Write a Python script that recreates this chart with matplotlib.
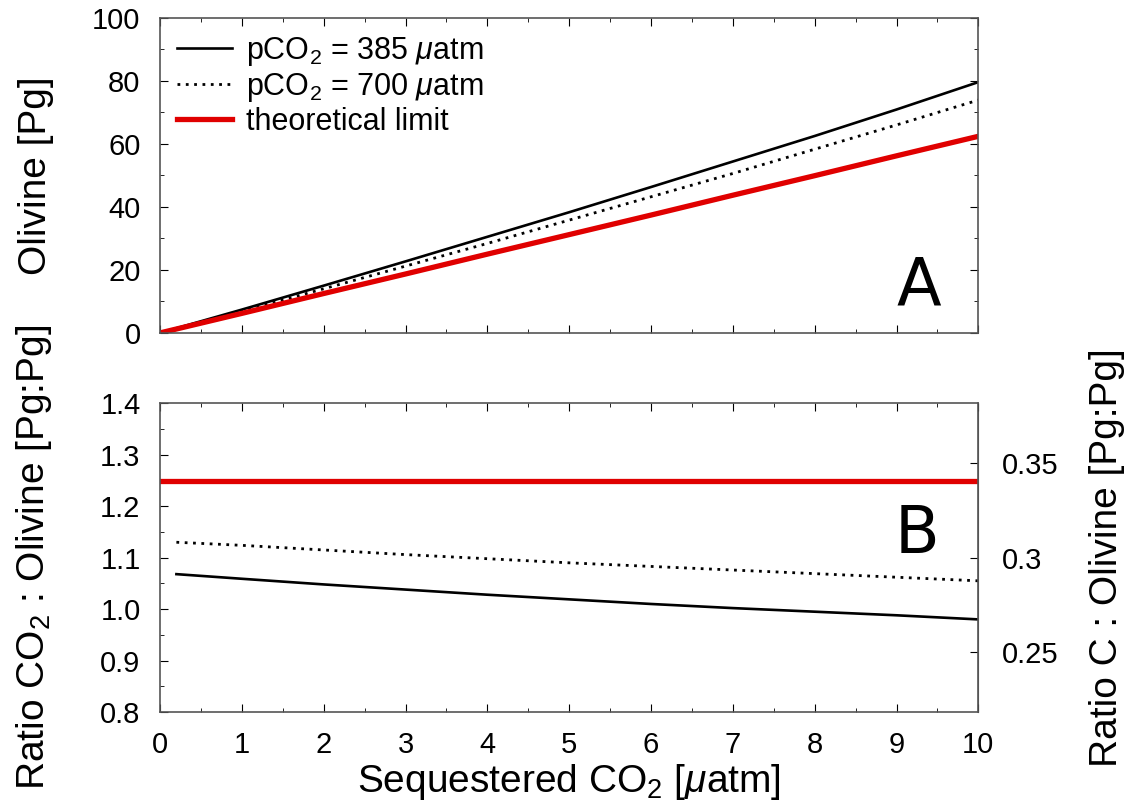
import numpy as np
import matplotlib
matplotlib.use("Agg")
from matplotlib import pyplot as plt
from matplotlib.ticker import MultipleLocator

plt.rcParams['font.family'] = ['Liberation Sans', 'DejaVu Sans']
plt.rcParams['mathtext.fontset'] = 'custom'
plt.rcParams['mathtext.rm'] = 'Liberation Sans'
plt.rcParams['mathtext.it'] = 'Liberation Sans:italic'

# panel A: olivine needed [Pg] vs sequestered CO2
x_a = [0, 1, 2, 3, 4, 5, 6, 7, 8, 9, 10]
oliv_385 = [0, 7.4, 15.0, 22.7, 30.5, 38.3, 46.3, 54.4, 62.5, 70.9, 79.6]
oliv_700 = [0, 6.9, 14.0, 21.2, 28.4, 35.8, 43.2, 50.6, 58.3, 66.0, 73.9]
oliv_lim = [0, 6.2, 12.5, 18.7, 25.0, 31.2, 37.4, 43.7, 49.9, 56.2, 62.4]

# panel B: ratio CO2 : olivine
x_b = [0.2, 1, 2, 3, 4, 5, 6, 7, 8, 9, 10]
ratio_385 = [1.068, 1.059, 1.048, 1.038, 1.028, 1.019, 1.010, 1.002, 0.995, 0.988, 0.980]
ratio_700 = [1.130, 1.124, 1.115, 1.106, 1.098, 1.090, 1.083, 1.076, 1.069, 1.062, 1.055]
x_lim = [0, 10]
ratio_lim = [1.25, 1.25]

fig = plt.figure(figsize=(11.35, 8.1), dpi=100)
ax1 = fig.add_axes([0.141, 0.589, 0.721, 0.389])
ax2 = fig.add_axes([0.141, 0.121, 0.721, 0.381])

dots = (0, (1, 2))
red = "#e00000"

lab = "pCO$_2$ = {} $\\mu$atm"
ax1.plot(x_a, oliv_385, color="black", lw=1.9, label=lab.format(385))
ax1.plot(x_a, oliv_700, color="black", lw=2.0, ls=dots, label=lab.format(700))
ax1.plot(x_a, oliv_lim, color=red, lw=3.8, label="theoretical limit")
ax1.set_xlim(0, 10)
ax1.set_ylim(0, 100)
ax1.set_ylabel("Olivine [Pg]", fontsize=28)
ax1.yaxis.set_label_coords(-0.130, 0.5)
ax1.yaxis.set_major_locator(MultipleLocator(20))
ax1.yaxis.set_minor_locator(MultipleLocator(10))
ax1.tick_params(labelbottom=False)
ax1.text(0.954, 0.089, "A", transform=ax1.transAxes, fontsize=47, family="DejaVu Sans", ha="right", va="baseline")
ax1.legend(loc="upper left", frameon=False, fontsize=22, handlelength=1.8, labelspacing=0.1,
           borderaxespad=0.15, borderpad=0.4, handletextpad=0.45)

ax2.plot(x_lim, ratio_lim, color=red, lw=3.8)
ax2.plot(x_b, ratio_700, color="black", lw=2.0, ls=dots)
ax2.plot(x_b, ratio_385, color="black", lw=1.9)
ax2.set_xlim(0, 10)
ax2.set_ylim(0.8, 1.4)
ax2.yaxis.set_major_locator(MultipleLocator(0.1))
ax2.yaxis.set_minor_locator(MultipleLocator(0.05))
ax2.yaxis.set_major_formatter(plt.FormatStrFormatter("%.1f"))
ax2.set_xlabel("Sequestered CO$_2$ [$\\mu$atm]", fontsize=28, labelpad=2)
ax2.set_ylabel("Ratio CO$_2$ : Olivine [Pg:Pg]", fontsize=28)
ax2.yaxis.set_label_coords(-0.130, 0.5)
ax2.text(0.952, 0.515, "B", transform=ax2.transAxes, fontsize=47, family="DejaVu Sans", ha="right", va="baseline")

sec = ax2.secondary_yaxis("right", functions=(lambda r: r * 12 / 44, lambda c: c * 44 / 12))
sec.set_yticks([0.25, 0.3, 0.35])
sec.set_yticklabels(["0.25", "0.3", "0.35"])
sec.tick_params(direction="in", length=6, labelsize=21, pad=17)
sec.set_ylabel("Ratio C : Olivine [Pg:Pg]", fontsize=28, labelpad=22)
sec.spines["right"].set_color("#555555")

for ax in (ax1, ax2):
    ax.xaxis.set_major_locator(MultipleLocator(1))
    ax.xaxis.set_minor_locator(MultipleLocator(0.5))
    ax.tick_params(which="both", direction="in", top=True, right=(ax is ax1), labelsize=21, pad=14)
    ax.tick_params(which="major", length=6)
    ax.tick_params(which="minor", length=3)
    for s in ax.spines.values():
        s.set_color("#555555")
        s.set_linewidth(1.2)

fig.savefig("out.png", dpi=100)
